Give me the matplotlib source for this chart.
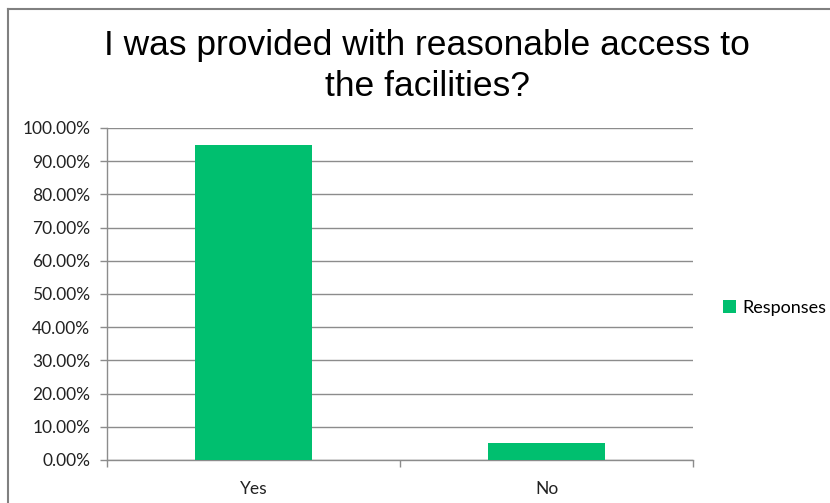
import matplotlib
matplotlib.use("Agg")
import matplotlib.pyplot as plt
from matplotlib.lines import Line2D
from matplotlib.patches import Patch
from matplotlib.ticker import FixedLocator, NullFormatter

# Survey data
categories = ["Yes", "No"]
responses = [94.74, 5.26]
series_name = "Responses"
y_ticks = [0, 10, 20, 30, 40, 50, 60, 70, 80, 90, 100]
title = "I was provided with reasonable access to\nthe facilities?"

W, H = 830, 503
fig = plt.figure(figsize=(W / 100, H / 100), dpi=100)
fig.patch.set_facecolor("white")

green = "#00BF6F"
grid_gray = "#8C8C8C"
label_font = "Lato"
label_size = 12.5

ax = fig.add_axes([107 / W, 1 - 460 / H, (693 - 107) / W, (460 - 128) / H])
x = list(range(len(categories)))
ax.bar(x, responses, width=0.4, color=green, zorder=3)

ax.set_xlim(-0.5, len(categories) - 0.5)
ax.set_ylim(0, 100)
ax.set_yticks(y_ticks)
ax.set_yticklabels([f"{v:.2f}%" for v in y_ticks], fontsize=label_size,
                   family=label_font, color="#222222")
ax.yaxis.grid(True, color=grid_gray, linewidth=1, zorder=0)

# category labels centred on bars, ticks at category boundaries
ax.set_xticks(x)
ax.set_xticklabels(categories, fontsize=label_size, family=label_font, color="#222222")
ax.tick_params(axis="x", which="major", length=0, pad=15)
ax.xaxis.set_minor_locator(FixedLocator([-0.5, 0.5, 1.5]))
ax.xaxis.set_minor_formatter(NullFormatter())
ax.tick_params(axis="x", which="minor", length=5, color=grid_gray, width=1)
ax.tick_params(axis="y", length=5, color=grid_gray, width=1, pad=7)

for s in ["top", "right"]:
    ax.spines[s].set_visible(False)
for s in ["left", "bottom"]:
    ax.spines[s].set_color(grid_gray)
    ax.spines[s].set_linewidth(1)

fig.text(427 / W, 1 - 66 / H, title, ha="center", va="center",
         fontsize=25.5, family="Liberation Sans", linespacing=1.3)

leg = fig.legend(handles=[Patch(facecolor=green, label=series_name)],
                 loc="center left", bbox_to_anchor=(723 / W, 1 - 308 / H),
                 frameon=False, borderpad=0, borderaxespad=0,
                 handlelength=0.7, handleheight=0.7,
                 handletextpad=0.35, prop={"family": label_font, "size": 13})

# chart border
bx, by = 7.5 / W, 1 - 8.5 / H
fig.add_artist(Line2D([bx, bx], [-0.01, by], transform=fig.transFigure,
                      color="#808080", linewidth=1.5))
fig.add_artist(Line2D([bx, 1.01], [by, by], transform=fig.transFigure,
                      color="#808080", linewidth=1.5))

fig.savefig("out.png", dpi=100)
